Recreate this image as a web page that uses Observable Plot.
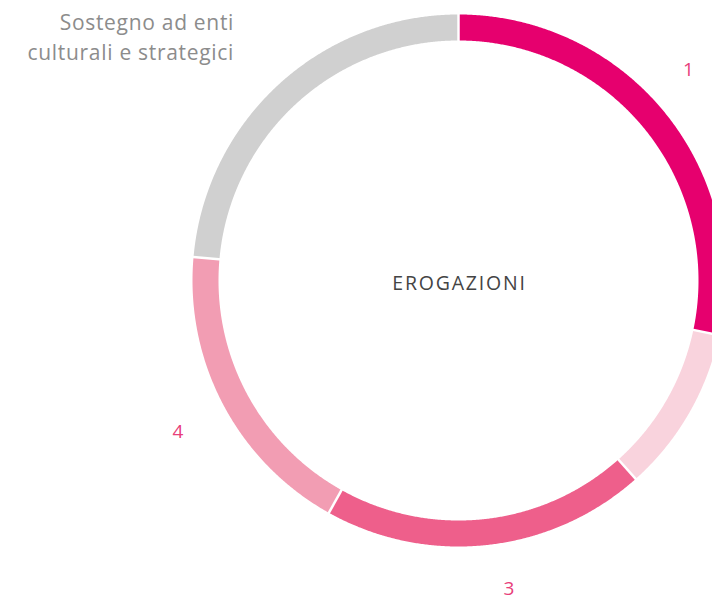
<!DOCTYPE html>
<html><head><meta charset="utf-8">
<script src="https://cdn.jsdelivr.net/npm/d3@7"></script>
<script src="https://cdn.jsdelivr.net/npm/@observablehq/plot@0.6"></script>
<style>html,body{margin:0;padding:0;background:#fff;overflow:hidden}</style>
</head><body><div id="chart"></div>
<script>
const categories = ["1", "2", "3", "4", "Sostegno ad enti culturali e strategici"];
const values = [28.3, 10.1, 19.7, 18.3, 23.6];
const labels = ["1", "2", "3", "4", "Sostegno ad enti\nculturali e strategici"];
const palette = ["#e6006e", "#f9d3dd", "#ee5f8b", "#f29db3", "#d0d0d0"];
const centerTitle = "EROGAZIONI";

const arcs = d3.pie().sort(null).value(d => d)(values);
const rMid = 1, rIn = 240 / 253, rOut = 267 / 253, rLab = 313 / 253;
const pt = (a, r) => ({x: r * Math.sin(a), y: r * Math.cos(a)});

const ringPts = [];
arcs.forEach((a, i) => {
  const n = Math.max(8, Math.ceil((a.endAngle - a.startAngle) / 0.005));
  for (let k = 0; k <= n; k++) {
    const ang = a.startAngle + (a.endAngle - a.startAngle) * k / n;
    ringPts.push({cat: categories[i], ...pt(ang, rMid)});
  }
});
const seps = arcs.map(a => {
  const p1 = pt(a.startAngle, rIn - 0.02), p2 = pt(a.startAngle, rOut + 0.02);
  return {x1: p1.x, y1: p1.y, x2: p2.x, y2: p2.y};
});
const labPts = arcs.map((a, i) => ({label: labels[i], cat: categories[i], ...pt((a.startAngle + a.endAngle) / 2, rLab)}));
const lab = c => labPts.filter(d => d.cat === c);

const numStyle = {x: "x", y: "y", text: "label", fontSize: 19, fill: "#e8407a"};

const chart = Plot.plot({
  width: 712, height: 597, margin: 0,
  style: {fontFamily: "'Open Sans', sans-serif", background: "#fff"},
  x: {domain: [-1, 1], range: [205, 711], axis: null},
  y: {domain: [-1, 1], range: [533, 27], axis: null},
  color: {domain: categories, range: palette},
  marks: [
    Plot.line(ringPts, {x: "x", y: "y", z: "cat", stroke: "cat", strokeWidth: 26, strokeLinecap: "butt", strokeLinejoin: "round"}),
    Plot.link(seps, {x1: "x1", y1: "y1", x2: "x2", y2: "y2", stroke: "#fff", strokeWidth: 2.5}),
    Plot.text([centerTitle], {x: () => 0, y: () => 0, text: d => d, fontSize: 19.5, fill: "#444", dx: 1, dy: 3}),
    Plot.text(lab("1"), {...numStyle, dx: -13, dy: -13}),
    Plot.text(lab("3"), {...numStyle, dx: 16, dy: -3}),
    Plot.text(lab("4"), {...numStyle, dx: -4, dy: 5}),
    Plot.text(lab(categories[4]), {x: "x", y: "y", text: "label", fontSize: 21, fill: "#8c8c8c", textAnchor: "end", lineHeight: 1.43, dx: -13, dy: -14})
  ]
});
for (const t of chart.querySelectorAll("text")) {
  if (t.textContent === centerTitle) t.style.letterSpacing = "1.8px";
  if (t.textContent.includes("Sostegno")) t.style.letterSpacing = "0.7px";
}
document.getElementById("chart").appendChild(chart);
</script></body></html>
